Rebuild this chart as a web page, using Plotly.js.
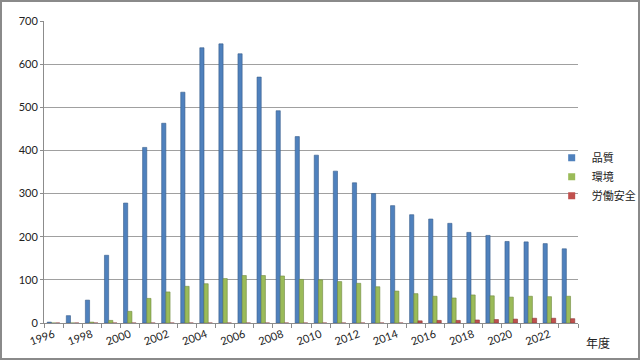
<!DOCTYPE html>
<html><head><meta charset="utf-8">
<script src="https://cdn.plot.ly/plotly-3.0.1.min.js"></script>
<style>
html,body{margin:0;padding:0;background:#fff;}
#wrap{position:relative;width:640px;height:360px;}
#chart{width:640px;height:360px;}
#frame{position:absolute;left:0;top:0;width:640px;height:360px;box-sizing:border-box;border:2px solid #8a8a8a;pointer-events:none;}
</style></head>
<body><div id="wrap"><div id="chart"></div><div id="frame"></div></div>
<script>
const years = [1996,1997,1998,1999,2000,2001,2002,2003,2004,2005,2006,2007,2008,2009,2010,2011,2012,2013,2014,2015,2016,2017,2018,2019,2020,2021,2022,2023];
const quality = [2,17,53,157,278,407,463,535,638,647,624,570,492,432,389,352,325,300,272,251,241,231,210,203,189,188,184,172];
const environment = [0,0,2,6,27,57,72,85,91,103,110,110,109,101,100,96,92,84,74,68,62,58,65,63,60,62,61,62];
const safety = [0,0,0,0,0,0,0,0,0,0,0,0,0,0,0,0,0,0,0,5,6,6,7,8,9,11,11,10];
const seriesNames = ['品質','環境','労働安全'];
const colors = ['#4F81BD','#9BBB59','#C0504D'];
const edgeColors = ['#385D8A','#71893F','#8C3836'];
const labelYears = [1996,1998,2000,2002,2004,2006,2008,2010,2012,2014,2016,2018,2020,2022];
const boundaries = years.map(y => y - 0.5).concat([years[years.length-1] + 0.5]);

const seriesData = [quality, environment, safety];
const traces = [];
seriesData.forEach((vals, i) => {
  traces.push({type:'bar', x:years, y:vals, name:seriesNames[i], showlegend:false,
    marker:{color:colors[i], line:{color:edgeColors[i], width:0.6}}, hoverinfo:'x+y'});
});
seriesData.forEach((vals, i) => {
  traces.push({type:'scatter', mode:'markers', x:[null], y:[null], name:seriesNames[i],
    marker:{symbol:'square', size:7, color:colors[i]}});
});

const layout = {
  width:640, height:360,
  margin:{l:44, r:62, t:21, b:37, autoexpand:false},
  paper_bgcolor:'#ffffff', plot_bgcolor:'#ffffff',
  barmode:'group', bargap:0.34, bargroupgap:0,
  font:{family:'Lato, "Noto Sans CJK JP", sans-serif', size:11, color:'#222'},
  xaxis:{
    type:'linear', range:[1995.5, 2023.5], automargin:false,
    tickmode:'array', tickvals:labelYears, ticktext:labelYears.map(String),
    tickangle:-20, ticks:'', showgrid:false, zeroline:false,
    showline:true, linecolor:'#8c8c8c', linewidth:1,
    tickfont:{family:'Lato, sans-serif', size:11, color:'#222'},
    minor:{tickmode:'array', tickvals:boundaries, ticks:'outside', ticklen:4, tickcolor:'#8c8c8c', showgrid:false}
  },
  yaxis:{
    range:[0,700], tickvals:[0,100,200,300,400,500,600,700], automargin:false,
    ticks:'outside', ticklen:3, tickcolor:'#8c8c8c',
    showgrid:true, gridcolor:'#a0a0a0', gridwidth:1,
    showline:true, linecolor:'#8c8c8c', linewidth:1, zeroline:false,
    tickfont:{family:'Lato, sans-serif', size:11, color:'#222'}
  },
  legend:{xref:'container', yref:'container', x:0.862, xanchor:'left', y:0.602, yanchor:'top', tracegroupgap:0,
    font:{family:'"Noto Sans CJK JP", sans-serif', size:11, color:'#222'},
    bgcolor:'rgba(0,0,0,0)', itemwidth:30},
  annotations:[{text:'年度', xref:'paper', yref:'paper', x:1.037, y:-0.063, xanchor:'center', yanchor:'middle',
    showarrow:false, font:{family:'"Noto Sans CJK JP", sans-serif', size:12, color:'#222'}}]
};
Plotly.newPlot('chart', traces, layout, {displayModeBar:false, staticPlot:true});
</script></body></html>
